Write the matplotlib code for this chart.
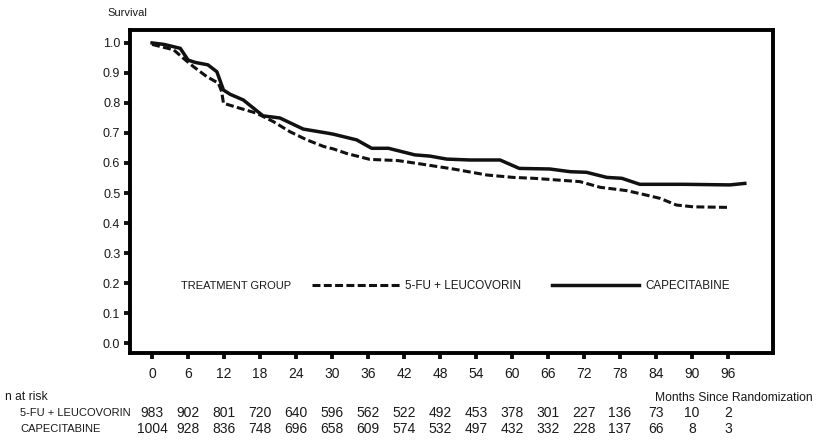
import matplotlib
matplotlib.use("Agg")
import matplotlib.pyplot as plt
from matplotlib.transforms import blended_transform_factory

plt.rcParams['font.family'] = ['Liberation Sans', 'DejaVu Sans']

# survival curves
cape_months = [0, 2, 4.7, 6, 7.2, 9.3, 10.8, 11.9, 13, 15.2, 18.5, 21.3, 25.2, 29.1,
               30.2, 34.1, 36.6, 39.4, 43.8, 46.3, 49.1, 53, 58, 61.2, 66.3, 69.7,
               72.4, 75.8, 78.3, 81.3, 88.6, 96.3, 98.8]
cape_surv = [1.0, 0.995, 0.982, 0.943, 0.935, 0.927, 0.904, 0.843, 0.829, 0.81, 0.757,
             0.75, 0.713, 0.70, 0.696, 0.677, 0.649, 0.649, 0.627, 0.623, 0.613, 0.61,
             0.61, 0.582, 0.58, 0.571, 0.569, 0.552, 0.549, 0.529, 0.529, 0.527, 0.532]

fu_months = [0, 3.6, 5.2, 6.9, 9.1, 11.05, 11.6, 11.9, 14.7, 17.4, 20.2, 23, 25.8,
             28.6, 30.2, 32.4, 36.3, 41, 44.7, 50.2, 55.8, 60.2, 63.6, 71.3, 74.7,
             79.1, 82.4, 84.7, 87.4, 90.2, 96.3]
fu_surv = [0.995, 0.977, 0.949, 0.921, 0.888, 0.866, 0.838, 0.799, 0.782, 0.766, 0.738,
           0.704, 0.677, 0.655, 0.647, 0.632, 0.612, 0.608, 0.597, 0.58, 0.56, 0.552,
           0.549, 0.538, 0.519, 0.508, 0.493, 0.482, 0.46, 0.454, 0.452]

x_ticks = list(range(0, 97, 6))
y_ticks = [0.0, 0.1, 0.2, 0.3, 0.4, 0.5, 0.6, 0.7, 0.8, 0.9, 1.0]

risk_fu = [983, 902, 801, 720, 640, 596, 562, 522, 492, 453, 378, 301, 227, 136, 73, 10, 2]
risk_cape = [1004, 928, 836, 748, 696, 658, 609, 574, 532, 497, 432, 332, 228, 137, 66, 8, 3]

txt = '#1a1a1a'

fig = plt.figure(figsize=(8.18, 4.46), dpi=100)
ax = fig.add_axes([0.159, 0.2085, 0.786, 0.7242])

l_fu, = ax.plot(fu_months, fu_surv, color='#111111', lw=2.2, dashes=(2.6, 1.1),
                label='5-FU + LEUCOVORIN')
l_cape, = ax.plot(cape_months, cape_surv, color='#111111', lw=2.5,
                  label='CAPECITABINE')

ax.set_xlim(-3.67, 103.5)
ax.set_ylim(-0.033, 1.043)
ax.set_xticks(x_ticks)
ax.set_yticks(y_ticks)
ax.set_yticklabels(['%.1f' % v for v in y_ticks])
for s in ax.spines.values():
    s.set_linewidth(2.8)
ax.tick_params(axis='both', width=2.8, length=4, color='#111111', labelcolor=txt)
ax.tick_params(axis='x', pad=6, labelsize=10)
ax.tick_params(axis='y', pad=3, labelsize=9)

ax.text(0.08, 0.207, 'TREATMENT GROUP', transform=ax.transAxes, fontsize=8,
        va='center', ha='left', color=txt)
ax.legend(handles=[l_fu, l_cape], ncol=2, frameon=False, fontsize=8.4,
          loc='center left', bbox_to_anchor=(0.283, 0.207), borderpad=0,
          borderaxespad=0, handlelength=7.5, handletextpad=0.5, columnspacing=2.6,
          labelcolor=txt)

fig.text(0.131, 0.971, 'Survival', fontsize=8, ha='left', va='center', color=txt)

# n at risk table
tr = blended_transform_factory(ax.transData, fig.transFigure)
fig.text(0.006, 0.110, 'n at risk', fontsize=8.7, ha='left', va='center', color=txt)
fig.text(0.0245, 0.074, '5-FU + LEUCOVORIN', fontsize=8, ha='left', va='center', color=txt)
fig.text(0.0245, 0.038, 'CAPECITABINE', fontsize=8, ha='left', va='center', color=txt)
for m, a, b in zip(x_ticks, risk_fu, risk_cape):
    ax.text(m, 0.074, str(a), transform=tr, fontsize=10, ha='center', va='center',
            color=txt)
    ax.text(m, 0.038, str(b), transform=tr, fontsize=10, ha='center', va='center',
            color=txt)
fig.text(0.993, 0.108, 'Months Since Randomization', fontsize=8.7, ha='right',
         va='center', color=txt)

fig.savefig('out.png', dpi=100)
